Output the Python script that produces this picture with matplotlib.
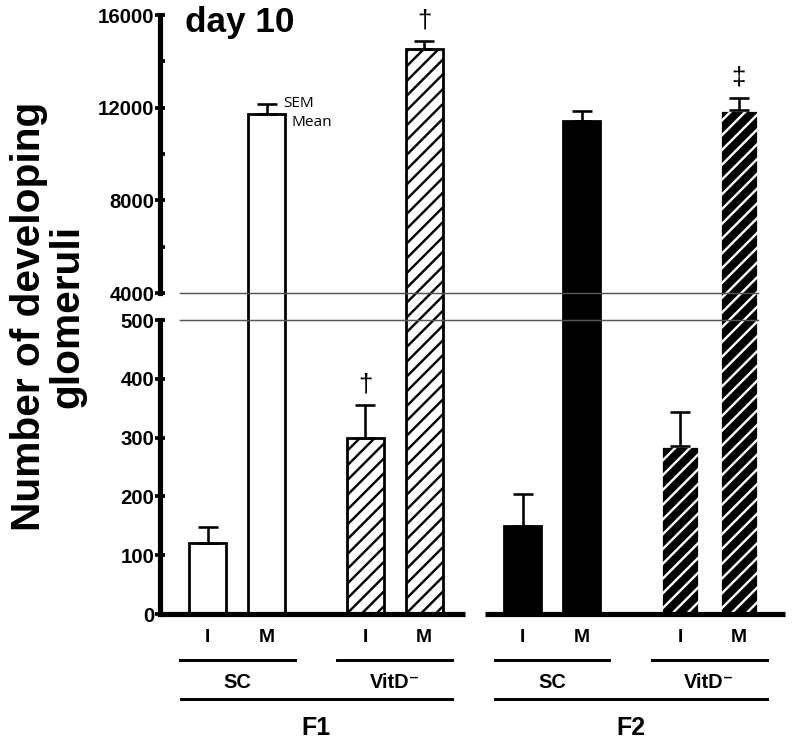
import numpy as np
import matplotlib
matplotlib.use("Agg")
import matplotlib.pyplot as plt
from matplotlib.transforms import blended_transform_factory

# data
labels = ["I", "M", "I", "M", "I", "M", "I", "M"]
diets = ["SC", "VitD\u207b", "SC", "VitD\u207b"]
generations = ["F1", "F2"]
means = [120, 11740, 300, 14530, 150, 11410, 285, 11910]
sems = [28, 420, 55, 360, 54, 450, 58, 510]
marks = {2: "\u2020", 3: "\u2020", 7: "\u2021"}

# styles
faces = ["white", "white", "white", "white", "black", "black", "black", "black"]
edges = ["black", "black", "black", "black", "black", "black", "white", "white"]
hatches = [None, None, "///", "///", None, None, "///", "///"]

plt.rcParams["font.family"] = ["Liberation Sans", "DejaVu Sans"]
plt.rcParams["font.weight"] = "bold"
plt.rcParams["hatch.linewidth"] = 1.3

DPI = 133
fig = plt.figure(figsize=(796 / DPI, 744 / DPI), dpi=DPI)

pair_step = 8 / 3
x = np.array([p * pair_step + k for p in range(4) for k in (0, 1)])

left, width = 160 / 796, 625 / 796
ax_top = fig.add_axes([left, 1 - 320 / 744, width, 305 / 744])
ax_bot = fig.add_axes([left, 1 - 614 / 744, width, 294 / 744])

xlim = (-0.81, 9.78)

for ax in (ax_top, ax_bot):
    ax.bar(x, means, width=0.63, color=faces, edgecolor=edges,
           linewidth=1.5, hatch=hatches, zorder=2)
    ax.errorbar(x, means, yerr=[np.zeros(len(sems)), sems], fmt="none",
                ecolor="black", elinewidth=1.4, capsize=5.5, capthick=1.4,
                zorder=3)
    ax.set_xlim(*xlim)
    ax.set_xticks([])
    for s in ("top", "right", "bottom"):
        ax.spines[s].set_visible(False)
    ax.spines["left"].set_linewidth(2.8)
    ax.tick_params(axis="y", which="major", direction="inout", length=5,
                   width=2, pad=0.5, labelsize=11)
    ax.tick_params(axis="y", which="minor", direction="in", length=2.5,
                   width=2)

# upper part of the broken axis
ax_top.set_ylim(2835, 16000)
ax_top.spines["left"].set_bounds(4000, 16000)
ax_top.set_yticks([4000, 8000, 12000, 16000])
ax_top.set_yticks([6000, 10000, 14000], minor=True)
ax_top.plot([-0.47, 9.32], [4000, 4000], color="#555555", lw=0.8, zorder=4)

# lower part
ax_bot.set_ylim(0, 500)
ax_bot.set_yticks([0, 100, 200, 300, 400, 500])
ax_bot.plot([-0.47, 9.32], [500, 500], color="#555555", lw=0.8, zorder=4,
            clip_on=False)
for x0, x1 in ((-0.81, 4.36), (4.69, 9.78)):
    ax_bot.plot([x0, x1], [0, 0], color="black", lw=2.8, clip_on=False,
                solid_capstyle="butt", zorder=5)

# significance marks
for i, m in marks.items():
    ax = ax_top if means[i] > 4000 else ax_bot
    ax.annotate(m, (x[i], means[i] + sems[i]), xytext=(0, 11),
                textcoords="offset points", ha="center", va="center",
                fontsize=14, fontweight="normal")

# SEM / Mean legend next to the first M bar
ax_top.text(1.27, 12200, "SEM", family="Open Sans", fontweight="normal",
            fontsize=8.3, va="center", ha="left")
ax_top.text(1.42, 11380, "Mean", family="Open Sans", fontweight="normal",
            fontsize=8.3, va="center", ha="left")

# grouped category labels under the axis
tr = blended_transform_factory(ax_bot.transData, fig.transFigure)
fy = lambda px: 1 - px / 744
for xi, lab in zip(x, labels):
    fig.text(xi, fy(637), lab, transform=tr, ha="center", va="center",
             fontsize=10.5)
for p, d in enumerate(diets):
    c = p * pair_step + 0.5
    fig.add_artist(plt.Line2D([c - 0.97, c + 0.97], [fy(660), fy(660)],
                              transform=tr, color="black", lw=1.6))
    fig.text(c, fy(683), d, transform=tr, ha="center", va="center",
             fontsize=10.8)
for g, gen in enumerate(generations):
    c0 = 2 * g * pair_step + 0.5
    c1 = c0 + pair_step
    fig.add_artist(plt.Line2D([c0 - 0.96, c1 + 0.97], [fy(699), fy(699)],
                              transform=tr, color="black", lw=1.6))
    fig.text((c0 + c1) / 2, fy(728), gen, transform=tr, ha="center",
             va="center", fontsize=13.5)

fig.text(185 / 796, fy(6), "day 10", ha="left", va="top", fontsize=19)
fig.text(48 / 796, fy(316), "Number of developing\nglomeruli", rotation=90,
         ha="center", va="center", fontsize=22, linespacing=1.0)

fig.savefig("out.png", dpi=DPI)
